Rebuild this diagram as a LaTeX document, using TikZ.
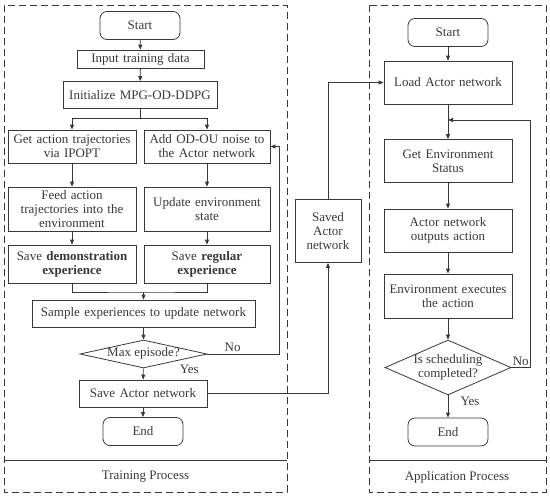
\documentclass[tikz,border=0pt]{standalone}
\usepackage{fontspec}
\setmainfont{Liberation Serif}
\usepackage{tikz}
\usetikzlibrary{arrows.meta,positioning,calc,shapes.geometric}
\definecolor{ink}{gray}{0.22}
\tikzset{
  box/.style={draw, line width=0.8pt, minimum width=128pt, minimum height=43pt, text width=122pt, align=center,
              inner sep=1.5pt},
  term/.style={box, rounded corners=7pt, minimum width=80pt, minimum height=28pt, text width=74pt},
  dec/.style={draw, diamond, line width=0.8pt, inner sep=0pt},
  arr/.style={-{Triangle[length=5pt, width=4pt]}, line width=0.8pt},
  line/.style={line width=0.8pt},
  frame/.style={line width=0.8pt, dash pattern=on 7pt off 4pt}
}
\newcommand{\dtxt}[1]{\makebox[0pt]{\begin{tabular}{@{}c@{}}#1\end{tabular}}}

\begin{document}
\begin{tikzpicture}[x=1pt, y=-1pt, color=ink, font=\fontsize{13}{14}\selectfont]
\useasboundingbox (0,0) rectangle (550,498);
\draw[frame] (4,5) rectangle (287,492); \draw[line] (4,460) -- (287,460);
\draw[frame] (369,5) rectangle (546,492); \draw[line] (369,460) -- (546,460);
\node (train) at (145.5,477) {Training Process};
\node (apply) at (457,477) {Application Process};

\node[term] (start1) at (140,25.5) {Start};
\node[box, minimum width=127pt, minimum height=18pt] (input) at (140.5,59) {Input training data};
\node[box, minimum width=154pt, minimum height=27pt, text width=148pt] (init) at (140,95) {Initialize MPG-OD-DDPG};
\node[box, minimum height=33pt] (get) at (72,146.5) {Get action trajectories\\ via IPOPT};
\node[box, minimum width=126pt, minimum height=33pt, text width=120pt] (addnoise) at (207,146.5) {Add OD-OU noise to\\ the Actor network};
\node[box, minimum height=44pt] (feed) at (72,209) {Feed action\\ trajectories into the\\ environment};
\node[box, minimum width=126pt, minimum height=44pt, text width=120pt] (update) at (207,209) {Update environment\\ state};
\node[box, minimum height=38pt] (savedemo) at (72,264) {Save \textbf{demonstration}\\ \textbf{experience}};
\node[box, minimum width=126pt, minimum height=38pt, text width=120pt] (savereg) at (207,264) {Save \textbf{regular}\\ \textbf{experience}};
\node[box, minimum width=223pt, minimum height=27pt, text width=217pt] (sample) at (143.5,313.5) {Sample experiences to update network};
\node[dec, minimum width=127pt, minimum height=28pt] (maxep) at (143.5,354) {\dtxt{Max episode?}};
\node[box, minimum height=27pt] (saveactor) at (143,393.5) {Save Actor network};
\node[term] (end1) at (143,431.5) {End};

\node[box, minimum width=66pt, minimum height=63pt, text width=60pt] (saved) at (328,231) {Saved\\ Actor\\ network};

\node[term] (start2) at (448,32.5) {Start};
\node[box] (load) at (448,82.5) {Load Actor network};
\node[box] (getenv) at (448,161) {Get Environment\\ Status};
\node[box] (actorout) at (448,230.5) {Actor network\\ outputs action};
\node[box, minimum height=44pt] (envexec) at (448,296) {Environment executes\\ the action};
\node[dec, minimum width=126pt, minimum height=55pt] (sched) at (448,367.5) {\dtxt{Is scheduling\\ completed?}};
\node[term] (end2) at (448,432) {End};

\draw[arr] (start1) -- (input); \draw[arr] (input) -- (init);
\draw[line] (init.south) -- ++(0,9) coordinate (s1);
\draw[arr] (s1) -| (get); \draw[arr] (s1) -| (addnoise);
\draw[arr] (get) -- (feed); \draw[arr] (feed) -- (savedemo);
\draw[arr] (addnoise) -- (update); \draw[arr] (update) -- (savereg);
\coordinate (m1) at (143.5,292);
\draw[line] (savedemo) |- (m1) -| (savereg); \draw[arr] (m1) -- (sample);
\draw[arr] (sample) -- (maxep);
\draw[arr] (maxep.east) -- node[above, pos=0.35, inner sep=2pt] {No} ++(72,0) |- (addnoise.east);
\draw[arr] (maxep) -- node[pos=0.1, xshift=46pt] {Yes} (saveactor);
\draw[arr] (saveactor) -- (end1);
\draw[arr] (saveactor) -| (saved);
\draw[arr] (saved) |- (load);

\coordinate (j1) at (448,120);
\draw[arr] (start2) -- (load); \draw[arr] (load) -- (getenv);
\draw[arr] (getenv) -- (actorout); \draw[arr] (actorout) -- (envexec);
\draw[arr] (envexec) -- (sched);
\draw[arr] (sched) -- node[pos=0.26, xshift=22pt] {Yes} (end2);
\draw[arr] (sched.east) -- node[pos=0, above right, inner sep=1pt] {No} ++(19,0) |- (j1);
\end{tikzpicture}
\end{document}
